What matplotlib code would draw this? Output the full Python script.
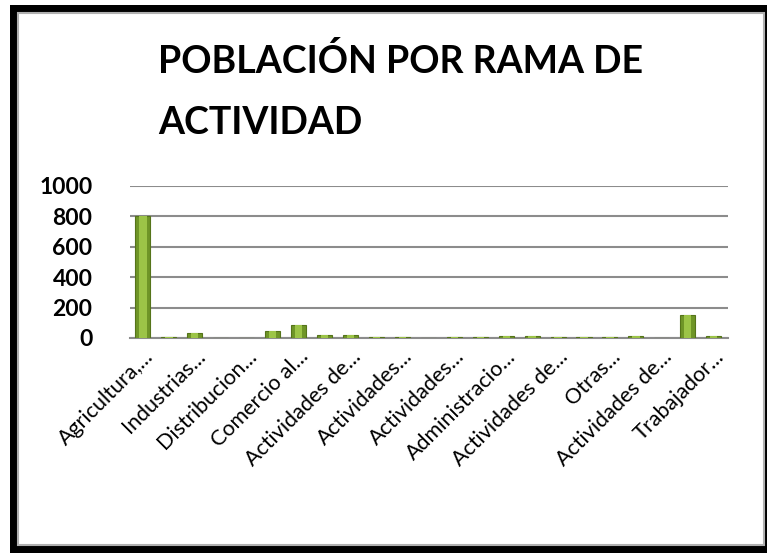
import numpy as np
from matplotlib import pyplot as plt
from matplotlib.patches import Rectangle

# categories (Excel only shows every other label)
categorias = [
    'Agricultura,...', 'Explotacion...', 'Industrias...', 'Construccion...',
    'Distribucion...', 'Comercio al...', 'Comercio al...', 'Transportes...',
    'Actividades de...', 'Actividades...', 'Actividades...', 'Actividades...',
    'Actividades...', 'Actividades...', 'Administracio...', 'Actividades...',
    'Actividades de...', 'Actividades...', 'Otras...', 'Otras...',
    'Actividades de...', 'Actividades de...', 'Trabajador...',
]
poblacion = [800, 5, 35, 0, 0, 45, 85, 18, 18, 4, 4, 0,
             4, 4, 15, 15, 5, 5, 5, 15, 0, 150, 15]
yticks = [0, 200, 400, 600, 800, 1000]

W, H = 767, 553
fig = plt.figure(figsize=(W / 100, H / 100), dpi=100)

# black frame around the chart, as in the screenshot
fig.patches.append(Rectangle((0, 0), 1, 1, transform=fig.transFigure,
                             facecolor='white', edgecolor='none', zorder=-3))
fig.patches.append(Rectangle((10 / W, 0), (W - 10) / W, (H - 5) / H,
                             transform=fig.transFigure, facecolor='black',
                             edgecolor='none', zorder=-2))
fig.patches.append(Rectangle((18 / W, 8 / H), (764 - 18) / W, (H - 13 - 8) / H,
                             transform=fig.transFigure, facecolor='white',
                             edgecolor='#b0b0b0', lw=1.5, zorder=-1))

ax = fig.add_axes([130 / W, (H - 338) / H, 598 / W, 152 / H])
x = np.arange(len(categorias))
ax.bar(x, poblacion, 0.58, color='#6f9527', edgecolor='#55741a', lw=0.8, zorder=3)
ax.bar(x, poblacion, 0.28, color='#9cc447', edgecolor='none', zorder=4)

ax.set_xlim(-0.5, len(categorias) - 0.45)
ax.set_ylim(0, 1000)
ax.set_yticks(yticks)
ax.set_yticklabels([str(v) for v in yticks], family='Lato', fontweight='bold',
                   fontsize=16.5)
ax.set_xticks(x[::2])
ax.set_xticklabels(categorias[::2], rotation=45, ha='right',
                   rotation_mode='anchor', family='Lato', fontsize=15.5)
ax.tick_params(length=0, pad=6)
ax.tick_params(axis='y', pad=27)
for lbl in ax.get_yticklabels():
    lbl.set_horizontalalignment('right')
ax.grid(axis='y', color='#8c8c8c', lw=1.5, zorder=0)
for s in ['top', 'right', 'left']:
    ax.spines[s].set_visible(False)
ax.spines['bottom'].set_color('#8c8c8c')
ax.spines['bottom'].set_linewidth(1.5)

fig.text(158 / W, 1 - 43 / H, 'POBLACIÓN POR RAMA DE\nACTIVIDAD', ha='left',
         va='top', family='Lato', fontweight='bold', fontsize=27,
         linespacing=1.95)

fig.savefig('out.png', dpi=100)
